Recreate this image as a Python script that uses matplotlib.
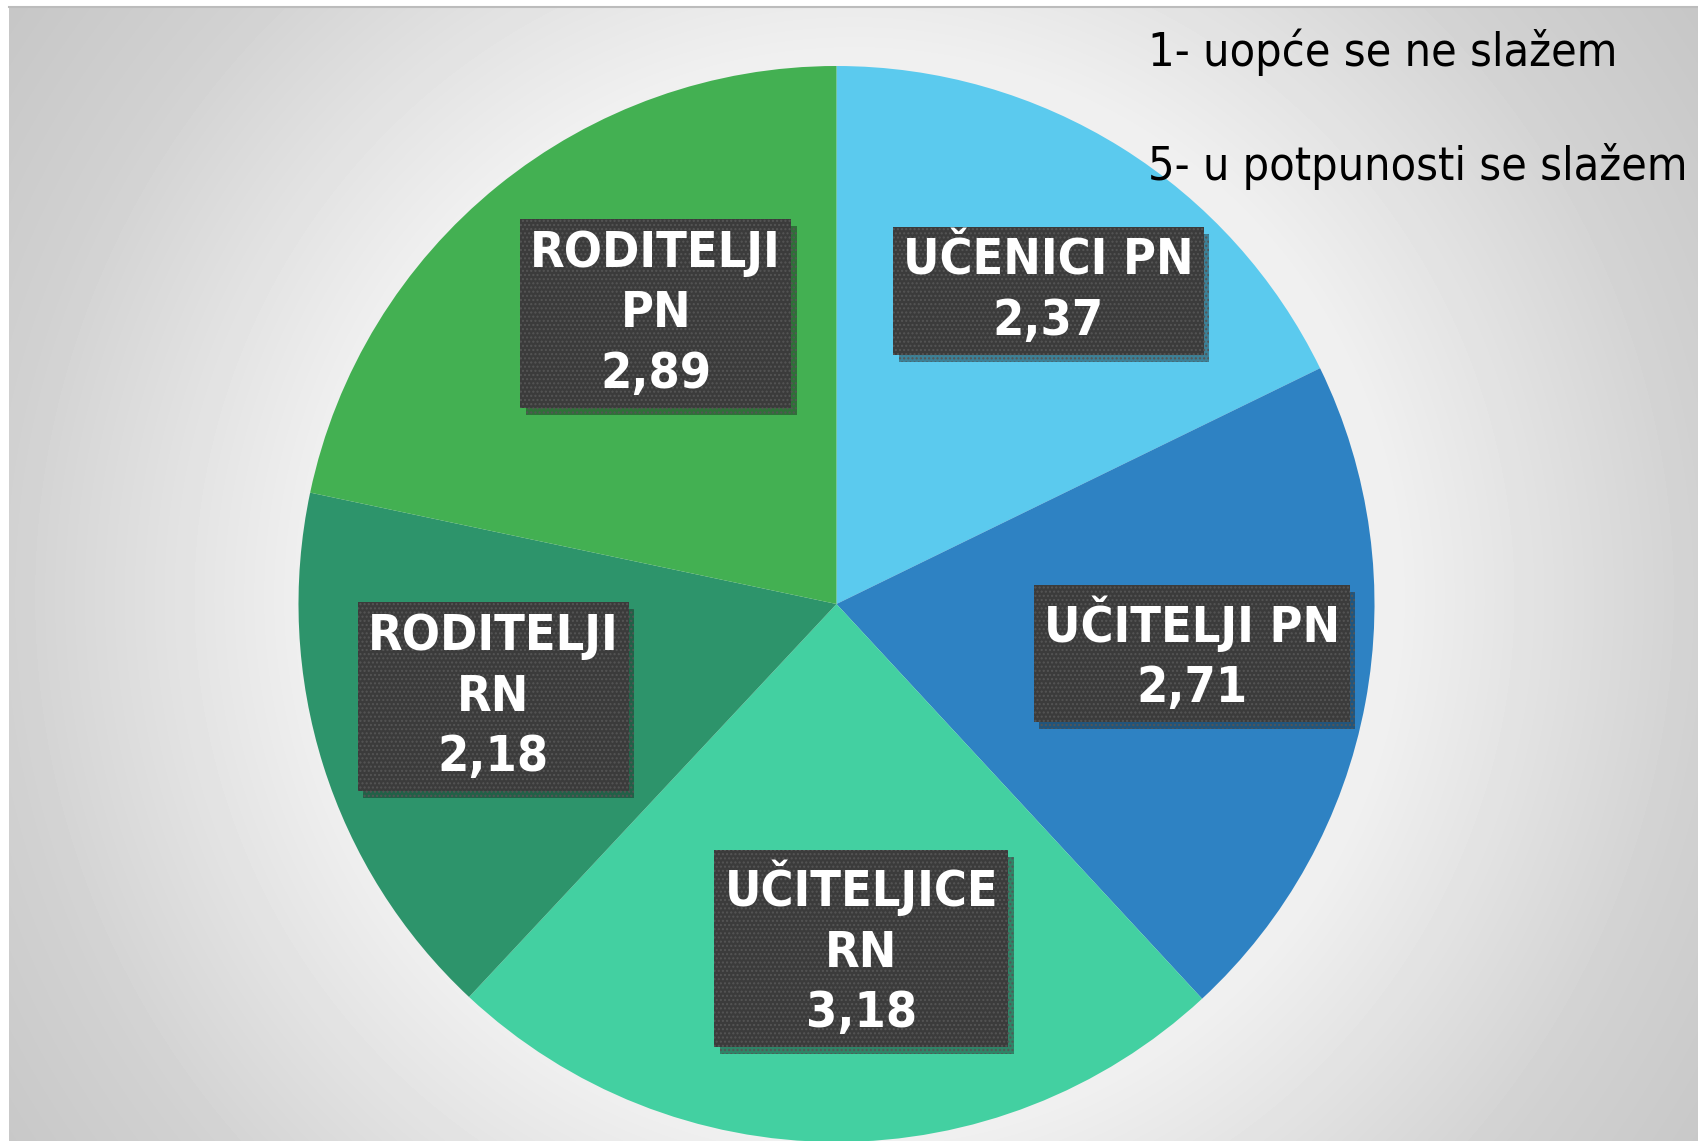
import matplotlib

matplotlib.use("Agg")

import matplotlib.pyplot as plt
import matplotlib.patheffects as pe
import numpy as np
from matplotlib import font_manager

# data
categories = ["UČENICI PN", "UČITELJI PN", "UČITELJICE\nRN", "RODITELJI\nRN", "RODITELJI\nPN"]
values = [2.37, 2.71, 3.18, 2.18, 2.89]
colors = ["#5BCAEE", "#2E82C3", "#43D0A1", "#2D946B", "#43B052"]
scale_notes = ["1- uopće se ne slažem", "5- u potpunosti se slažem"]

# where the label boxes sit, in pie radii from the centre
label_xy = [(0.394, 0.582), (0.660, -0.092), (0.046, -0.640), (-0.638, -0.172), (-0.336, 0.540)]

installed = {f.name for f in font_manager.fontManager.ttflist}
narrow = "Liberation Sans Narrow" if "Liberation Sans Narrow" in installed else "DejaVu Sans"

W, H = 1699, 1141
fig = plt.figure(figsize=(W / 100, H / 100), dpi=100)
fig.patch.set_facecolor("white")

# grey radial background
bg_left, bg_top = 9, 7
bg = fig.add_axes([bg_left / W, 0, (W - bg_left) / W, (H - bg_top) / H])
yy, xx = np.mgrid[0:H - bg_top, 0:W - bg_left]
d = np.hypot(xx - 845, yy - 590) / 850.0
shade = np.interp(d, [0.0, 0.64, 1.0, 1.25], [0.95, 0.94, 0.82, 0.77])
bg.imshow(shade, cmap="gray", vmin=0, vmax=1, aspect="auto", interpolation="bilinear")
bg.set_axis_off()
fig.add_artist(plt.Line2D([bg_left / W, 1], [1 - bg_top / H] * 2, color="#bcbcbc", lw=1.5))

# pie, radius 538 px centred at (836, 604)
cx, cy, r = 836.5, 604, 538
ax = fig.add_axes([(cx - r) / W, (H - cy - r) / H, 2 * r / W, 2 * r / H])
ax.pie(values, colors=colors, startangle=90, counterclock=False, wedgeprops=dict(linewidth=0))
ax.set_xlim(-1, 1)
ax.set_ylim(-1, 1)

for cat, val, (lx, ly) in zip(categories, values, label_xy):
    t = ax.text(lx, ly, f"{cat}\n{val:.2f}".replace(".", ","),
                ha="center", va="center", multialignment="center",
                color="white", fontsize=36, fontweight="bold", family=narrow,
                fontstretch="condensed", linespacing=1.32)
    t.set_bbox(dict(boxstyle="square,pad=0.2", facecolor="#3b3b3b", edgecolor="#555555",
                    linewidth=0, hatch="...."))
    t.get_bbox_patch().set_path_effects(
        [pe.SimplePatchShadow(offset=(4, -5), alpha=0.4), pe.Normal()]
    )

fig.text(1148 / W, 1 - 66 / H, scale_notes[0], fontsize=33.5, family=narrow,
         fontstretch="condensed", color="black", va="baseline")
fig.text(1148 / W, 1 - 180 / H, scale_notes[1], fontsize=33.5, family=narrow,
         fontstretch="condensed", color="black", va="baseline")

fig.savefig("out.png", dpi=100)
